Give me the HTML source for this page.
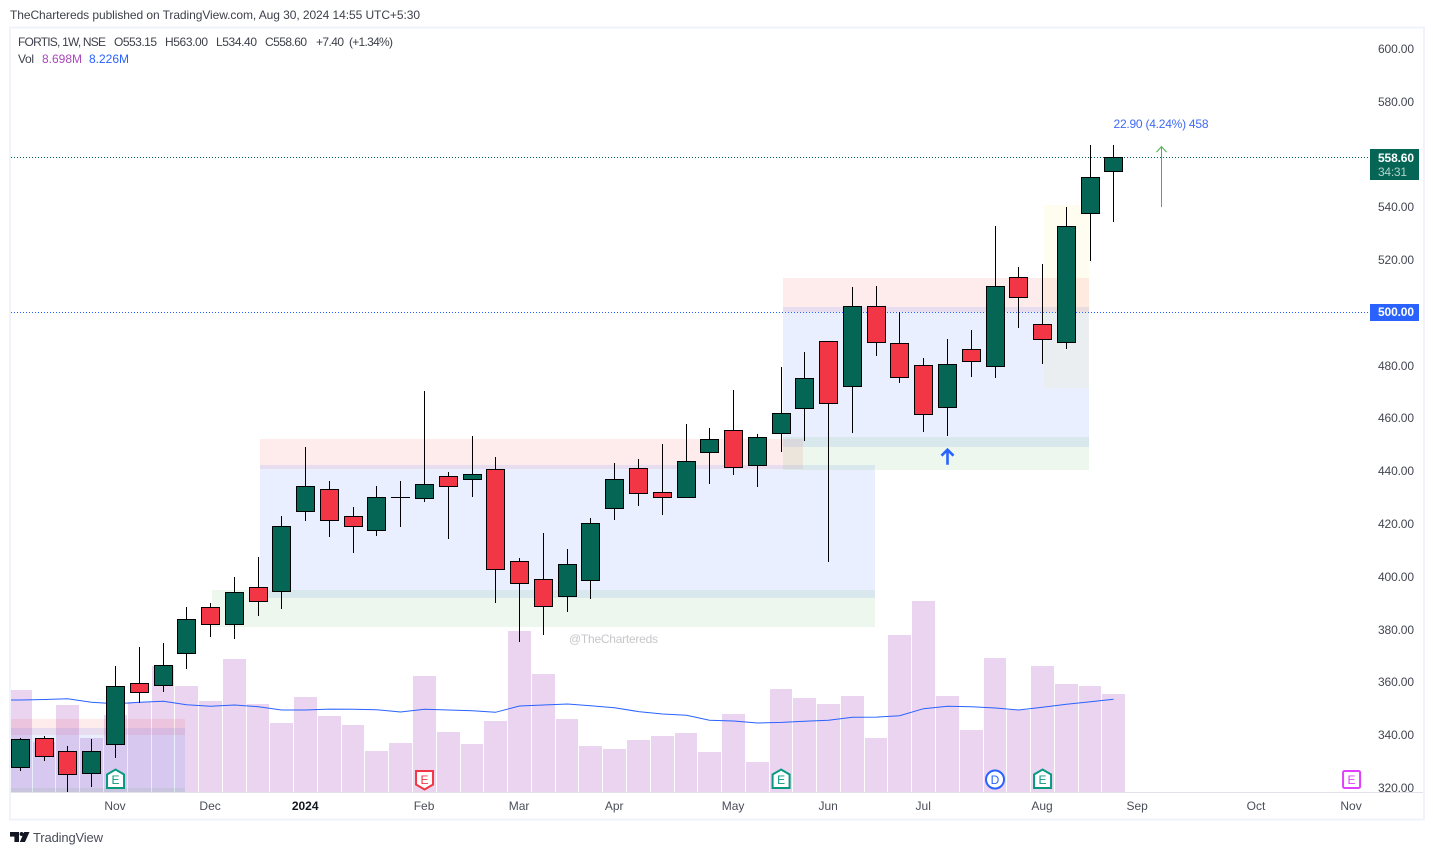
<!DOCTYPE html>
<html lang="en">
<head>
<meta charset="utf-8">
<title>FORTIS 1W chart</title>
<style>
html,body{margin:0;padding:0;background:#fff;}
body{width:1433px;height:855px;overflow:hidden;}
svg{display:block;font-family:"Liberation Sans",sans-serif;font-size:12px;}
</style>
</head>
<body>
<svg id="chart" xmlns="http://www.w3.org/2000/svg" width="1433" height="855" viewBox="0 0 1433 855">
  <rect x="0" y="0" width="1433" height="855" fill="#ffffff"/>
  <text x="10" y="19" fill="#3e414b" textLength="410" lengthAdjust="spacing">TheChartereds published on TradingView.com, Aug 30, 2024 14:55 UTC+5:30</text>
  <rect x="10" y="27.5" width="1414" height="792" fill="none" stroke="#f0f3fa" stroke-width="2"/>
  <clipPath id="pane"><rect x="11" y="29" width="1359" height="763"/></clipPath>
  <g id="volumeLayer" clip-path="url(#pane)"></g>
  <g id="zoneLayer" clip-path="url(#pane)"></g>
  <g id="lineLayer"></g>
  <g id="candleLayer" clip-path="url(#pane)"></g>
  <line x1="11" y1="792.5" x2="1423" y2="792.5" stroke="#e0e3eb"/>
  <g id="markerLayer"></g>
  <g id="axisLayer"></g>

  <g fill="#3e414b">
    <text x="18" y="46" textLength="88" lengthAdjust="spacing">FORTIS, 1W, NSE</text>
    <text x="114" y="46" textLength="43" lengthAdjust="spacing">O553.15</text>
    <text x="165" y="46" textLength="43" lengthAdjust="spacing">H563.00</text>
    <text x="216" y="46" textLength="41" lengthAdjust="spacing">L534.40</text>
    <text x="265" y="46" textLength="42" lengthAdjust="spacing">C558.60</text>
    <text x="316" y="46" textLength="28" lengthAdjust="spacing">+7.40</text>
    <text x="349" y="46" textLength="44" lengthAdjust="spacing">(+1.34%)</text>
    <text x="18" y="63" textLength="16" lengthAdjust="spacing">Vol</text>
    <text x="42" y="63" fill="#ab47bc" textLength="40" lengthAdjust="spacing">8.698M</text>
    <text x="89" y="63" fill="#2962ff" textLength="40" lengthAdjust="spacing">8.226M</text>
  </g>

  <text x="569" y="643" fill="#c6c7ca" textLength="89" lengthAdjust="spacing">@TheChartereds</text>

  <g>
    <path d="M10 832h9v10h-4.6v-5.4H10z" fill="#131722"/>
    <circle cx="21.6" cy="834" r="2" fill="#131722"/>
    <path d="M24.2 832H29.5L25 842H19.8z" fill="#131722"/>
    <text x="33" y="842" font-size="13" fill="#4a4e59" textLength="70" lengthAdjust="spacing">TradingView</text>
  </g>
</svg>

<script>
// ---------- Data ----------
const weeks = ['2023-10-09','2023-10-16','2023-10-23','2023-10-30','2023-11-06','2023-11-13','2023-11-20','2023-11-27','2023-12-04','2023-12-11','2023-12-18','2023-12-25','2024-01-01','2024-01-08','2024-01-15','2024-01-22','2024-01-29','2024-02-05','2024-02-12','2024-02-19','2024-02-26','2024-03-04','2024-03-11','2024-03-18','2024-03-25','2024-04-01','2024-04-08','2024-04-15','2024-04-22','2024-04-29','2024-05-06','2024-05-13','2024-05-20','2024-05-27','2024-06-03','2024-06-10','2024-06-17','2024-06-24','2024-07-01','2024-07-08','2024-07-15','2024-07-22','2024-07-29','2024-08-05','2024-08-12','2024-08-19','2024-08-26'];
const opens = [327.5,338.4,333.5,325.2,336.2,359.3,358.5,370.6,388.1,381.6,395.7,394.1,424.5,432.8,422.6,417.3,429.8,429.4,437.7,436.6,440.4,405.5,398.7,392.2,398.3,425.6,440.7,431.7,429.8,446.8,455.1,441.9,454,463.5,488.9,471.8,502.1,488.1,479.8,463.9,485.8,479.4,513.1,495.3,488.5,537.4,553.15];
const highs = [338.4,339.2,335.5,337.8,365.7,373,374.5,387.8,389.6,399.2,407.1,422.6,448.8,435.6,425.7,433.7,435.9,469.7,439,452.6,444.7,406.4,416.2,409.8,421.9,442.4,443.9,449.6,457.2,456,470.4,453.7,479.1,484.8,488.9,509.4,509.8,499.7,482.5,489.4,492.8,532.2,517,517.8,539.4,563,563];
const lows = [326.4,330.2,318.2,320.1,331,351.9,356.1,364.8,376.9,376.2,384.9,387.5,420.9,414.8,408.8,415.2,418.6,428.1,414.1,430,389.8,375,377.7,386.4,391.3,421.3,426.6,423.2,429.5,434.9,438.3,433.8,447,451.1,405.6,454.2,483.4,473.2,454.6,453.1,475.5,475.1,494,480.4,486.1,519.4,534.4];
const closes = [338.1,331.6,324.8,333.5,358.1,355.9,366.1,383.5,381.6,393.8,390.4,418.8,433.9,421,418.8,429.8,429.8,434.7,433.9,438.5,402.5,397.2,388.5,404.4,419.9,436.6,431.3,429.8,443.4,451.7,441.1,452.5,461.6,474.8,465.4,502.1,488.5,475.2,461.2,480.2,481.3,509.7,505.5,489.6,532.4,551,558.6];
const volumes = [9.05,4.44,7.72,4.79,6.83,7.99,11.18,9.41,8.07,11.8,7.81,6.12,8.43,6.74,5.94,3.64,4.35,10.29,5.32,4.26,6.3,14.29,10.47,6.48,4.08,3.82,4.61,4.97,5.24,3.55,6.92,2.66,9.14,8.34,7.81,8.52,4.79,13.93,16.95,8.52,5.5,11.89,7.28,11.18,9.58,9.41,8.698];
const volumeMA = [8.16,8.21,8.28,7.96,7.83,7.96,8.05,7.75,7.6,7.72,7.57,7.28,7.28,7.36,7.34,7.3,7.1,7.34,7.28,7.21,7.07,7.63,7.72,7.81,7.66,7.48,7.13,6.92,6.81,6.36,6.3,6.12,6.18,6.27,6.36,6.63,6.65,6.77,7.39,7.6,7.57,7.45,7.28,7.52,7.78,8.01,8.226];
const priceTicks = [600,580,540,520,480,460,440,420,400,380,360,340,320];
const timeTickLabels = ['Nov','Dec','2024','Feb','Mar','Apr','May','Jun','Jul','Aug','Sep','Oct','Nov'];
const timeTickBars = [4,8,12,17,21,25,30,34,38,43,47,52,56];

// Drawn zones: [name, first bar, last bar, top price, bottom price, colour]
const zoneNames = ['resistance-zone-1','range-zone-1','support-zone-1','resistance-zone-2','range-zone-2','support-zone-2','breakout-zone','resistance-zone-0','range-zone-0','support-zone-0'];
const zoneStart = [10.08,10.08,8.06,32.08,32.08,32.08,43.06,-1,-1,-1];
const zoneEnd = [32.92,35.95,35.95,44.95,44.95,44.95,44.95,6.92,6.92,6.92];
const zoneTop = [451.85,442,394.6,512.85,501.9,452.6,540.5,345.75,342.3,319.6];
const zoneBottom = [440.5,391.6,380.6,499.8,448.8,440.1,471.2,339.7,318,318];
const zoneColors = ['rgba(242,54,69,.1)','rgba(41,98,255,.1)','rgba(76,175,80,.1)','rgba(242,54,69,.1)','rgba(41,98,255,.1)','rgba(76,175,80,.1)','rgba(255,235,59,.08)','rgba(242,54,69,.1)','rgba(41,98,255,.1)','rgba(76,175,80,.1)'];

// Event markers: bar index and kind
const eventBars = [4,17,32,41,43,56];
const eventKinds = ['earn-up','earn-down','earn-up','dividend','earn-up','earn-next'];

const lastPrice = 558.6;
const alertLevel = 500;
const projectionBar = 48;
const projectionFrom = 540.1;
const projectionTo = 563;
const signalBar = 39;
const signalPrice = 445.5;

// ---------- Axis functions ----------
const NS = 'http://www.w3.org/2000/svg';
const xRaw = i => 20.445 + 23.77 * i;
const xCol = i => Math.floor(xRaw(i));
const yPrice = p => 48 + (600 - p) * 2.639;
const yVol = v => 792 - v * 11.27;
const snap = y => Math.floor(y) + 0.5;

function make(parent, tag, attrs, text) {
  const el = document.createElementNS(NS, tag);
  for (const k in attrs) el.setAttribute(k, attrs[k]);
  if (text !== undefined) el.textContent = text;
  parent.appendChild(el);
  return el;
}

// ---------- Volume ----------
const volumeLayer = document.getElementById('volumeLayer');
volumes.forEach((v, i) => {
  const left = xCol(i) - 11;
  const right = xCol(i + 1) - 12;
  const bar = make(volumeLayer, 'rect', {x: left, y: Math.round(yVol(v)), width: right - left, height: 792 - Math.round(yVol(v)), fill: 'rgba(156,39,176,.2)'});
  
  
});
const maPath = 'M0 ' + yVol(volumeMA[0]).toFixed(1) + ' ' + volumeMA.map((v, i) => 'L' + (xCol(i) + 0.5) + ' ' + yVol(v).toFixed(1)).join(' ');
const maLine = make(volumeLayer, 'path', {d: maPath, fill: 'none', stroke: '#2962ff', 'stroke-width': 1});



// ---------- Zones ----------
const zoneLayer = document.getElementById('zoneLayer');
zoneNames.forEach((name, i) => {
  const x0 = Math.round(xRaw(zoneStart[i]));
  const x1 = Math.round(xRaw(zoneEnd[i]));
  const y0 = Math.round(yPrice(zoneTop[i]));
  const y1 = Math.round(yPrice(zoneBottom[i]));
  const zone = make(zoneLayer, 'rect', {x: x0, y: y0, width: x1 - x0, height: y1 - y0, fill: zoneColors[i]});
  
  
});

// ---------- Horizontal price lines ----------
const lineLayer = document.getElementById('lineLayer');
const lastLineY = Math.round(yPrice(lastPrice)) + 0.5;
const lastLine = make(lineLayer, 'line', {x1: 11, x2: 1370, y1: lastLineY, y2: lastLineY, stroke: '#056656', 'stroke-dasharray': '1 2'});


const alertLineY = Math.round(yPrice(alertLevel)) + 0.5;
const alertLine = make(lineLayer, 'line', {x1: 11, x2: 1370, y1: alertLineY, y2: alertLineY, stroke: '#2962ff', 'stroke-dasharray': '1 2'});



// ---------- Candles ----------
const candleLayer = document.getElementById('candleLayer');
weeks.forEach((week, i) => {
  const cx = xCol(i) + 0.5;
  const up = closes[i] >= opens[i];
  const top = snap(yPrice(Math.max(opens[i], closes[i])));
  const bottom = snap(yPrice(Math.min(opens[i], closes[i])));
  const g = make(candleLayer, 'g', {});
  
  
  const wick = make(g, 'line', {x1: cx, x2: cx, y1: Math.floor(yPrice(highs[i])), y2: Math.ceil(yPrice(lows[i])), stroke: '#000'});
  
  
  if (bottom - top < 1) {
    const doji = make(g, 'line', {x1: cx - 9.5, x2: cx + 9.5, y1: top, y2: top, stroke: '#000'});
    
    
  } else {
    const body = make(g, 'rect', {x: cx - 9, y: top, width: 18, height: bottom - top, fill: up ? '#056656' : '#f23645', stroke: '#000'});
    
    
  }
});

// ---------- Annotations ----------
const markerLayer = document.getElementById('markerLayer');
const projX = xCol(projectionBar) + 0.5;
const projG = make(markerLayer, 'g', {fill: 'none', stroke: '#4caf50'});


const projShaft = make(projG, 'line', {x1: projX, x2: projX, y1: yPrice(projectionFrom) + 1, y2: yPrice(projectionTo) + 1});


const projY = yPrice(projectionTo) + 1;
const projHead = make(projG, 'path', {d: 'M' + (projX - 5) + ' ' + (projY + 5.5) + 'L' + projX + ' ' + projY + 'L' + (projX + 5) + ' ' + (projY + 5.5)});


const projLabel = make(markerLayer, 'text', {x: projX - 0.5, y: 128, 'text-anchor': 'middle', fill: '#3f6af5', textLength: 95, lengthAdjust: 'spacing'}, '22.90 (4.24%) 458');



const sigX = xCol(signalBar) + 0.5;
const sigY = yPrice(signalPrice);
const signal = make(markerLayer, 'path', {d: 'M' + sigX + ' ' + (sigY + 9) + 'V' + (sigY - 6) + 'M' + (sigX - 6) + ' ' + sigY + 'L' + sigX + ' ' + (sigY - 6) + 'L' + (sigX + 6) + ' ' + sigY, fill: 'none', stroke: '#2962ff', 'stroke-width': 2.6});



eventKinds.forEach((kind, i) => {
  const cx = xRaw(eventBars[i]);
  const g = make(markerLayer, 'g', {});
  
  
  let color, letter = 'E', shape;
  if (kind === 'earn-up') {
    color = '#089981';
    shape = make(g, 'path', {d: 'M' + (cx - 8.5) + ' 774.5L' + cx + ' 769.5L' + (cx + 8.5) + ' 774.5V788H' + (cx - 8.5) + 'Z'});
  } else if (kind === 'earn-down') {
    color = '#f23645';
    shape = make(g, 'path', {d: 'M' + (cx - 8.5) + ' 771H' + (cx + 8.5) + 'V784.5L' + cx + ' 789.5L' + (cx - 8.5) + ' 784.5Z'});
  } else if (kind === 'dividend') {
    color = '#2962ff';
    letter = 'D';
    shape = make(g, 'circle', {cx: cx, cy: 779.5, r: 9});
  } else {
    color = '#e040fb';
    shape = make(g, 'rect', {x: cx - 8.5, y: 771, width: 17, height: 17, rx: 1.5});
  }
  shape.setAttribute('fill', '#fff');
  shape.setAttribute('stroke', color);
  shape.setAttribute('stroke-width', 2);
  
  
  const t = make(g, 'text', {x: cx, y: 784, 'text-anchor': 'middle', fill: color, 'font-size': 12}, letter);
  
  
});

// ---------- Axes ----------
const axisLayer = document.getElementById('axisLayer');
priceTicks.forEach(p => {
  const t = make(axisLayer, 'text', {x: 1378, y: Math.round(yPrice(p)) + 5, fill: '#434651', textLength: 36, lengthAdjust: 'spacing'}, p.toFixed(2));
  
  
});
timeTickLabels.forEach((label, i) => {
  const t = make(axisLayer, 'text', {x: xRaw(timeTickBars[i]) - 0.5, y: 810, 'text-anchor': 'middle', fill: label === '2024' ? '#131722' : '#4a4e59', 'font-weight': label === '2024' ? 'bold' : 'normal'}, label);
  
  
});

const lastBox = make(axisLayer, 'rect', {x: 1370, y: Math.round(yPrice(lastPrice)) - 8, width: 49, height: 31, fill: '#056656'});


const lastText = make(axisLayer, 'text', {x: 1378, y: Math.round(yPrice(lastPrice)) + 5, fill: '#fff', 'font-weight': 'bold', textLength: 36, lengthAdjust: 'spacing'}, lastPrice.toFixed(2));


const countdown = make(axisLayer, 'text', {x: 1378, y: Math.round(yPrice(lastPrice)) + 19, fill: '#b4d1cb', textLength: 29, lengthAdjust: 'spacing'}, '34:31');


const alertBox = make(axisLayer, 'rect', {x: 1370, y: Math.round(yPrice(alertLevel)) - 8, width: 49, height: 17, fill: '#2962ff'});


const alertText = make(axisLayer, 'text', {x: 1378, y: Math.round(yPrice(alertLevel)) + 4, fill: '#fff', 'font-weight': 'bold', textLength: 36, lengthAdjust: 'spacing'}, alertLevel.toFixed(2));


</script>
</body>
</html>
